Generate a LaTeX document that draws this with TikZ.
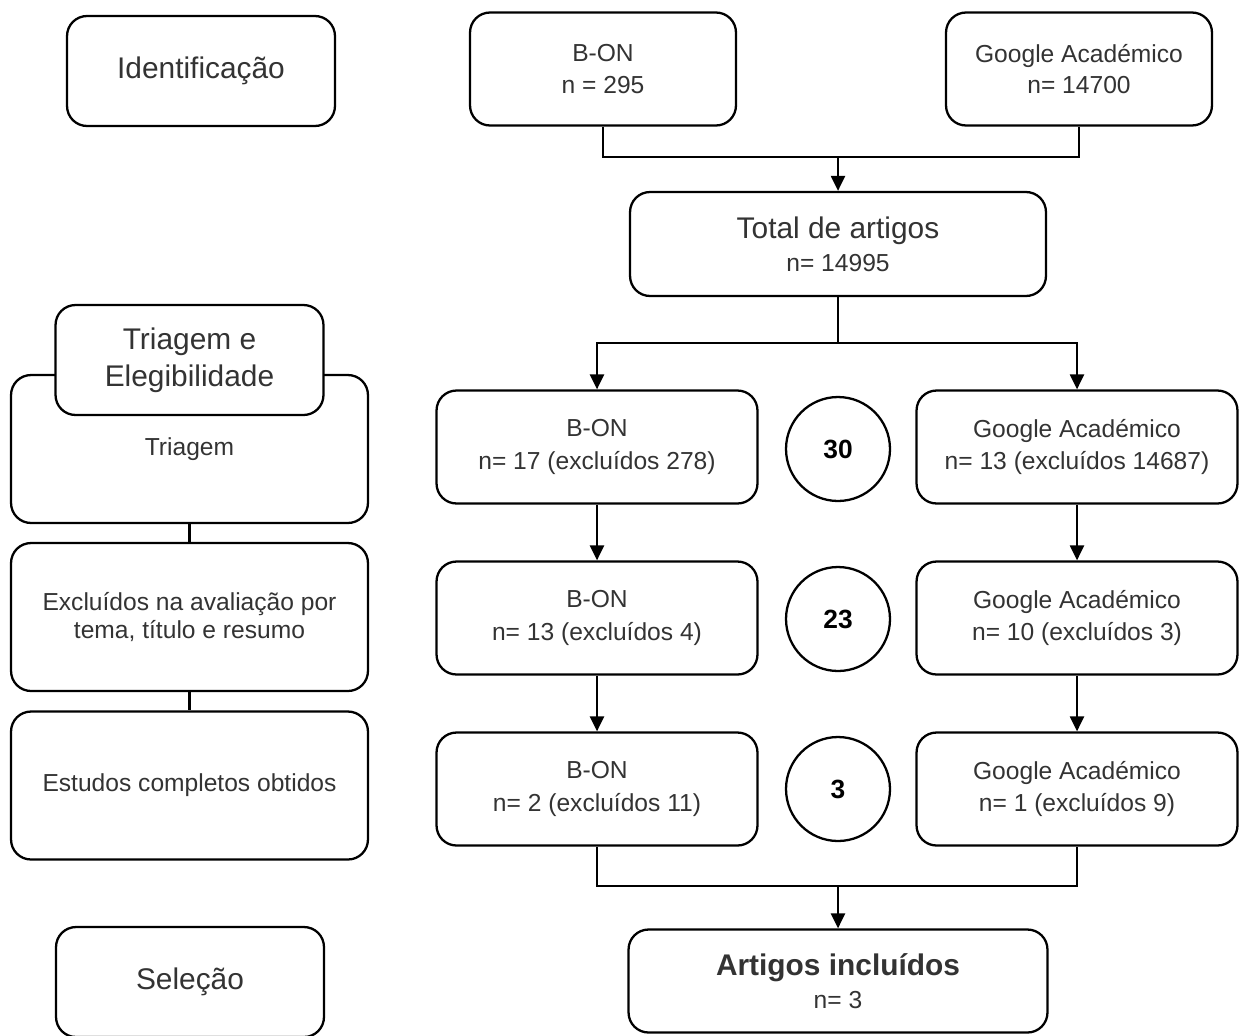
\documentclass[tikz,border=0pt]{standalone}
\usepackage{fontspec}
\setmainfont{Liberation Sans}
\usetikzlibrary{arrows.meta}
\definecolor{FlowText}{HTML}{333333}

\begin{document}
\begin{tikzpicture}[x=0.02cm,y=-0.02cm,line width=1.3pt,
  box/.style={draw=black,rounded corners=0.4cm,fill=white,align=center,text=FlowText,inner sep=0pt},
  src/.style={box,minimum width=5.32cm,minimum height=2.26cm,font=\fontsize{14}{18}\selectfont},
  stage/.style={box,minimum width=6.42cm,minimum height=2.26cm,font=\fontsize{14}{18.5}\selectfont},
  phase/.style={box,minimum width=5.36cm,minimum height=2.2cm,font=\fontsize{17}{21}\selectfont},
  side/.style={box,minimum width=7.14cm,minimum height=2.96cm,font=\fontsize{14}{16}\selectfont},
  tally/.style={circle,draw=black,minimum size=2.08cm,inner sep=0pt,font=\bfseries\fontsize{15}{18}\selectfont},
  flow/.style={-{Triangle[length=0.3cm,width=0.28cm]}}]
\useasboundingbox (0,0) rectangle (1239,1035);

% phases on the left
\node[phase] (ident) at (201,71) {Identificação};
\node[side] (triagem) at (189.5,449) {\raisebox{-3pt}{Triagem}};
\node[phase] (triel) at (189.5,360) {Triagem e\\Elegibilidade};
\node[side] (excl) at (189.5,617) {Excluídos na avaliação por\\tema, título e resumo};
\node[side] (estudos) at (189.5,785.5) {Estudos completos obtidos};
\node[phase] (selecao) at (190,982) {Seleção};
\draw (triagem.south) -- (excl.north);
\draw (excl.south) -- (estudos.north);

% sources
\node[src] (bon1) at (603,69) {B-ON\\n = 295};
\node[src] (gac1) at (1079,69) {Google Académico\\n= 14700};
\node[box,minimum width=8.32cm,minimum height=2.08cm,font=\fontsize{14}{19}\selectfont] (total) at (838,244)
  {{\fontsize{17}{20}\selectfont Total de artigos}\\n= 14995};

% screening rows
\node[stage] (bon2) at (597,447) {B-ON\\n= 17 (excluídos 278)};
\node[tally] (t30) at (838,449) {30};
\node[stage] (gac2) at (1077,447) {Google Académico\\n= 13 (excluídos 14687)};
\node[stage] (bon3) at (597,618) {B-ON\\n= 13 (excluídos 4)};
\node[tally] (t23) at (838,619) {23};
\node[stage] (gac3) at (1077,618) {Google Académico\\n= 10 (excluídos 3)};
\node[stage] (bon4) at (597,789) {B-ON\\n= 2 (excluídos 11)};
\node[tally] (t3) at (838,789) {3};
\node[stage] (gac4) at (1077,789) {Google Académico\\n= 1 (excluídos 9)};

\node[box,minimum width=8.38cm,minimum height=2.06cm,font=\fontsize{14}{19}\selectfont] (incl) at (838,981)
  {{\bfseries\fontsize{17}{20}\selectfont Artigos incluídos}\\n= 3};

% connectors
\coordinate (j1) at (838,157);
\coordinate (j2) at (838,343);
\coordinate (j3) at (838,886);
\draw (bon1.south) |- (j1) -| (gac1.south);
\draw[flow] (j1) -- (total.north);
\draw (total.south) -- (j2);
\draw[flow] (j2) -| (bon2.north);
\draw[flow] (j2) -| (gac2.north);
\draw[flow] (bon2.south) -- (bon3.north);
\draw[flow] (bon3.south) -- (bon4.north);
\draw[flow] (gac2.south) -- (gac3.north);
\draw[flow] (gac3.south) -- (gac4.north);
\draw (bon4.south) |- (j3) -| (gac4.south);
\draw[flow] (j3) -- (incl.north);
\end{tikzpicture}
\end{document}
